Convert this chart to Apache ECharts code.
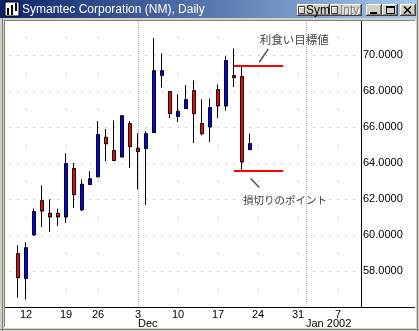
<!DOCTYPE html>
<html><head><meta charset="utf-8">
<script src="https://cdn.jsdelivr.net/npm/echarts@6/dist/echarts.min.js"></script>
<style>html,body{margin:0;padding:0;background:#fff}#c{width:419px;height:331px}</style>
</head><body><div id="c"></div>
<script>
// ---- data (trading-day index, 0 = Nov 9 2001) ----
const dayIndex = [0,1,2,3,4,5,6,7,8,9,10,11,12,13,14,15,16,17,18,19,20,21,22,23,24,25,26,27,28,29];
const opens  = [58.97,57.58,60.00,61.91,61.21,61.21,61.00,63.69,61.39,62.80,63.23,65.43,64.69,64.33,66.19,64.82,64.80,65.69,68.86,67.97,66.58,67.02,68.02,66.19,66.00,68.08,67.17,68.86,68.80,64.74];
const closes = [57.63,59.30,61.30,61.33,61.00,61.00,63.97,62.24,62.82,63.13,65.58,65.06,64.13,66.63,64.91,64.63,65.63,69.13,69.13,66.74,66.87,67.52,66.74,65.62,67.08,67.17,69.69,68.74,64.06,65.08];
const lows   = [56.52,56.41,59.97,60.44,60.17,60.50,60.67,61.50,61.33,62.78,63.20,64.11,64.13,64.33,63.72,62.54,61.67,65.69,68.19,66.50,66.28,67.02,65.11,65.54,65.17,66.50,66.91,68.22,63.56,64.74];
const highs  = [59.43,59.59,61.47,62.76,61.98,61.47,64.54,64.00,63.09,63.54,66.33,65.89,66.37,66.63,66.33,65.65,65.76,70.94,70.09,67.97,67.82,68.32,68.59,67.54,67.58,68.37,69.93,70.36,69.39,65.63];
const weekTickIdx = [1,6,10,15,20,25,30,35,40];
const weekTickLabels = ['12','19','26','3','10','17','24','31','7'];
const monthTickIdx = [15,36];
const monthTickLabels = ['Dec','Jan 2002'];
const yMin = 56, yMax = 72, yStep = 2;
const xMin = -1.5, xMax = 42.875;
const targetLevel = 69.39, stopLevel = 63.56;
const levelSpan = [27, 33.15];
const targetText = '利食い目標値';
const stopText = '損切りのポイント';
const titleText = 'Symantec Corporation (NM), Daily';

const FONT = '"Liberation Sans", Arial, sans-serif';
const JFONT = '"Noto Sans CJK JP", sans-serif';
const GRID = { left: 6, right: 58, top: 19, bottom: 24 };
const W = 419, H = 331;
const chart = echarts.init(document.getElementById('c'));
const candles = dayIndex.map((x, k) => [x, opens[k], closes[k], lows[k], highs[k]]);

chart.setOption({
  animation: false,
  backgroundColor: '#ffffff',
  grid: GRID,
  xAxis: [
    { type: 'value', min: xMin, max: xMax, position: 'bottom',
      axisLine: { show: true, onZero: false, lineStyle: { color: '#000', width: 1 } },
      axisTick: { show: false, customValues: weekTickIdx },
      axisLabel: { customValues: weekTickIdx, formatter: v => weekTickLabels[weekTickIdx.indexOf(v)],
        color: '#000', fontSize: 11, fontFamily: FONT, margin: 2, hideOverlap: false },
      splitLine: { show: true, lineStyle: { color: '#a8a8a8', width: 1, type: [1, 17], dashOffset: 0 } } },
    { type: 'value', min: xMin, max: xMax, position: 'bottom', gridIndex: 0,
      axisLine: { show: false, onZero: false }, axisTick: { show: false, customValues: monthTickIdx },
      axisLabel: { customValues: monthTickIdx, formatter: v => monthTickLabels[monthTickIdx.indexOf(v)],
        align: 'left', color: '#000', fontSize: 11, fontFamily: FONT, margin: 11, hideOverlap: false },
      splitLine: { show: true, lineStyle: { color: '#b0b0b0', width: 1, type: [1, 1] } } }
  ],
  yAxis: { type: 'value', position: 'right', min: yMin, max: yMax, interval: yStep,
    axisLine: { show: true, onZero: false, lineStyle: { color: '#000', width: 1 } }, axisTick: { show: false },
    axisLabel: { formatter: v => v.toFixed(4), color: '#000', fontSize: 11, fontFamily: FONT, margin: 2,
      showMinLabel: false, showMaxLabel: false },
    splitLine: { show: true, lineStyle: { color: '#a8a8a8', width: 1, type: [1, 7], dashOffset: 4 } } },
  series: [
    { type: 'candlestick', xAxisIndex: 0, data: candles, encode: { x: 0, y: [1, 2, 3, 4] }, barWidth: 4, z: 3,
      itemStyle: { color: '#0000ff', color0: '#ff0000', borderColor: '#000', borderColor0: '#000', borderWidth: 1 } },
    { type: 'line', xAxisIndex: 0, data: [[levelSpan[0], targetLevel], [levelSpan[1], targetLevel]], symbol: 'none', silent: true, z: 4,
      lineStyle: { color: '#ff0000', width: 2 } },
    { type: 'line', xAxisIndex: 0, data: [[levelSpan[0], stopLevel], [levelSpan[1], stopLevel]], symbol: 'none', silent: true, z: 4,
      lineStyle: { color: '#ff0000', width: 2 } }
  ]
});

// ---- annotations tied to the level lines ----
const pT0 = chart.convertToPixel({ seriesIndex: 1 }, [levelSpan[0], targetLevel]);
const pT1 = chart.convertToPixel({ seriesIndex: 1 }, [levelSpan[1], targetLevel]);
const pS0 = chart.convertToPixel({ seriesIndex: 2 }, [levelSpan[0], stopLevel]);
const axX = W - GRID.right;
const ann = [
  { type: 'rect', shape: { x: axX, y: 20, width: 1, height: H - GRID.bottom - 20 + 1 }, style: { fill: '#000000' }, z: 60 },
  { type: 'text', x: pT1[0] + 11, y: pT1[1] - 26.5, z: 50,
    style: { text: targetText, fill: '#454545', fontSize: 11.5, fontFamily: JFONT, align: 'center', verticalAlign: 'middle' } },
  { type: 'line', shape: { x1: pT0[0] + 25.3, y1: pT0[1] - 3.7, x2: pT0[0] + 34.3, y2: pT0[1] - 17.1 }, z: 50,
    style: { stroke: '#505050', lineWidth: 1.5 } },
  { type: 'text', x: pS0[0] + 51, y: pS0[1] + 29.5, z: 50,
    style: { text: stopText, fill: '#454545', fontSize: 10.5, fontFamily: JFONT, align: 'center', verticalAlign: 'middle' } },
  { type: 'line', shape: { x1: pS0[0] + 16.7, y1: pS0[1] + 7.6, x2: pS0[0] + 25.3, y2: pS0[1] + 16.6 }, z: 50,
    style: { stroke: '#505050', lineWidth: 1.5 } }
];

// ---- window chrome ----
const G = '#d4d0c8';
function btn(x, y, w, h) {
  return [
    { type: 'rect', shape: { x, y, width: w, height: h }, style: { fill: G }, z: 101 },
    { type: 'rect', shape: { x, y, width: w, height: 1 }, style: { fill: '#fff' }, z: 102 },
    { type: 'rect', shape: { x, y, width: 1, height: h }, style: { fill: '#fff' }, z: 102 },
    { type: 'rect', shape: { x, y: y + h - 1, width: w, height: 1 }, style: { fill: '#404040' }, z: 102 },
    { type: 'rect', shape: { x: x + w - 1, y, width: 1, height: h }, style: { fill: '#404040' }, z: 102 },
    { type: 'rect', shape: { x: x + 1, y: y + h - 2, width: w - 2, height: 1 }, style: { fill: '#808080' }, z: 102 },
    { type: 'rect', shape: { x: x + w - 2, y: y + 1, width: 1, height: h - 2 }, style: { fill: '#808080' }, z: 102 }
  ];
}
function chk(x, y) {
  return [
    { type: 'rect', shape: { x: x + 0.5, y: y + 0.5, width: 6, height: 7 }, style: { fill: G, stroke: '#404040', lineWidth: 1 }, z: 103 },
    { type: 'rect', shape: { x: x + 1, y: y + 1, width: 5, height: 1 }, style: { fill: '#fff' }, z: 104 },
    { type: 'rect', shape: { x: x + 1, y: y + 1, width: 1, height: 6 }, style: { fill: '#fff' }, z: 104 }
  ];
}
const chrome = [
  { type: 'rect', shape: { x: 0, y: 0, width: 419, height: 21 }, style: { fill: G }, z: 100 },
  { type: 'rect', shape: { x: 0, y: 0, width: 5, height: 331 }, style: { fill: G }, z: 100 },
  { type: 'rect', shape: { x: 415, y: 0, width: 4, height: 331 }, style: { fill: G }, z: 100 },
  { type: 'rect', shape: { x: 0, y: 327, width: 419, height: 4 }, style: { fill: G }, z: 100 },
  { type: 'rect', shape: { x: 4, y: 20, width: 1, height: 307 }, style: { fill: '#808080' }, z: 101 },
  { type: 'rect', shape: { x: 2, y: 0, width: 1, height: 331 }, style: { fill: '#808080' }, z: 101 },
  { type: 'rect', shape: { x: 4, y: 20, width: 411, height: 1 }, style: { fill: '#808080' }, z: 101 },
  { type: 'rect', shape: { x: 415, y: 20, width: 1, height: 308 }, style: { fill: '#ffffff' }, z: 101 },
  { type: 'rect', shape: { x: 4, y: 327, width: 412, height: 1 }, style: { fill: '#ffffff' }, z: 101 },
  { type: 'rect', shape: { x: 0, y: 329, width: 419, height: 1 }, style: { fill: '#808080' }, z: 101 },
  { type: 'rect', shape: { x: 417, y: 0, width: 1, height: 331 }, style: { fill: '#808080' }, z: 101 },
  // x axis line continues to the window edge
  { type: 'rect', shape: { x: 361, y: 307, width: 54, height: 1 }, style: { fill: '#000' }, z: 10 },
  { type: 'rect', shape: { x: 5, y: 307, width: 2, height: 1 }, style: { fill: '#000' }, z: 10 },
  // title bar
  { type: 'rect', shape: { x: 0, y: 0, width: 417, height: 18 }, z: 101,
    style: { fill: { type: 'linear', x: 0, y: 0, x2: 1, y2: 0, colorStops: [{ offset: 0, color: '#0a246a' }, { offset: 1, color: '#a6caf0' }] } } },
  { type: 'rect', shape: { x: 5, y: 2, width: 14, height: 14 }, style: { fill: '#fff', stroke: '#000', lineWidth: 1 }, z: 102 },
  { type: 'rect', shape: { x: 7, y: 8, width: 2, height: 7 }, style: { fill: '#000' }, z: 103 },
  { type: 'rect', shape: { x: 11, y: 5, width: 2, height: 10 }, style: { fill: '#000' }, z: 103 },
  { type: 'rect', shape: { x: 15, y: 3, width: 2, height: 8 }, style: { fill: '#000' }, z: 103 },
  { type: 'text', x: 22, y: 9.5, z: 102, style: { text: titleText, fill: '#fff', fontSize: 12, fontFamily: FONT, align: 'left', verticalAlign: 'middle' } }
].concat(
  btn(297, 4, 33, 12), chk(298, 6),
  [{ type: 'text', x: 306, y: 10.5, z: 104, style: { text: 'Sym', fill: '#000', fontSize: 12, fontFamily: FONT, align: 'left', verticalAlign: 'middle' } }],
  btn(330, 4, 32, 12), chk(331, 6),
  [{ type: 'text', x: 341, y: 11.5, z: 104, style: { text: 'Intv', fill: '#fff', fontSize: 12, fontFamily: FONT, align: 'left', verticalAlign: 'middle' } },
   { type: 'text', x: 340, y: 10.5, z: 105, style: { text: 'Intv', fill: '#808080', fontSize: 12, fontFamily: FONT, align: 'left', verticalAlign: 'middle' } }],
  btn(366, 4, 16, 12),
  [{ type: 'rect', shape: { x: 370, y: 12, width: 7, height: 2 }, style: { fill: '#000' }, z: 104 }],
  btn(382, 4, 16, 12),
  [{ type: 'rect', shape: { x: 386.5, y: 6.5, width: 8, height: 7 }, style: { fill: null, stroke: '#000', lineWidth: 1 }, z: 104 },
   { type: 'rect', shape: { x: 386, y: 6, width: 9, height: 2 }, style: { fill: '#000' }, z: 104 }],
  btn(400, 4, 16, 12),
  [{ type: 'line', shape: { x1: 404, y1: 6.5, x2: 411, y2: 13.5 }, style: { stroke: '#000', lineWidth: 1.6 }, z: 104 },
   { type: 'line', shape: { x1: 411, y1: 6.5, x2: 404, y2: 13.5 }, style: { stroke: '#000', lineWidth: 1.6 }, z: 104 }]
);

chart.setOption({ graphic: { elements: chrome.concat(ann) } });
</script></body></html>
